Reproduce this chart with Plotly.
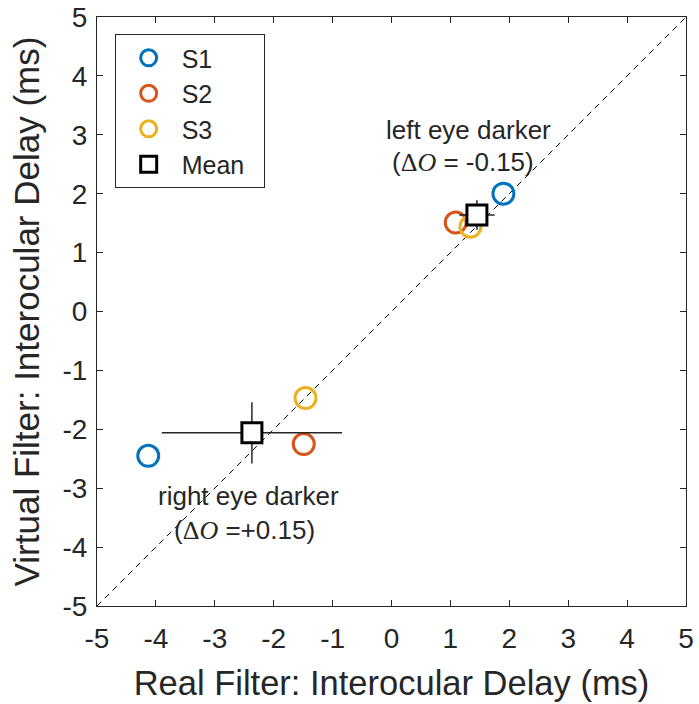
import plotly.graph_objects as go

# Data
s1_x = [1.90, -4.13]
s1_y = [2.00, -2.45]
s2_x = [1.09, -1.49]
s2_y = [1.51, -2.25]
s3_x = [1.34, -1.46]
s3_y = [1.44, -1.47]
mean_x = [1.45, -2.37]
mean_y = [1.64, -2.06]
mean_xerr = [0.30, 1.53]
mean_yerr = [0.25, 0.52]
ticks = [-5, -4, -3, -2, -1, 0, 1, 2, 3, 4, 5]

font = "Liberation Sans, Arial, Helvetica, sans-serif"
ink = "#262626"

fig = go.Figure()
fig.add_trace(go.Scatter(x=[-5, 5], y=[-5, 5], mode="lines",
                         line=dict(color="black", width=1, dash="6px,5px"),
                         showlegend=False, hoverinfo="skip"))

def circ(x, y, name, color):
    return go.Scatter(x=x, y=y, mode="markers", name=name,
                      marker=dict(symbol="circle-open", size=21, color=color,
                                  line=dict(width=3, color=color)))

fig.add_trace(circ(s1_x, s1_y, "S1", "#0072BD"))
fig.add_trace(circ(s2_x, s2_y, "S2", "#D95319"))
fig.add_trace(circ(s3_x, s3_y, "S3", "#EDB120"))
fig.add_trace(go.Scatter(x=mean_x, y=mean_y, mode="markers", name="Mean\u00a0\u00a0",
                         marker=dict(symbol="square", size=20, color="white",
                                     line=dict(width=3, color="black")),
                         error_x=dict(type="data", array=mean_xerr, color=ink, thickness=1.5, width=0),
                         error_y=dict(type="data", array=mean_yerr, color=ink, thickness=1.5, width=0)))

ann_font = dict(family=font, size=26, color=ink)
oi = "<span style='font-family:Liberation Serif, Times New Roman, serif'>Δ<i>O</i></span>"
fig.add_annotation(x=1.31, y=3.08, text="left eye darker", showarrow=False, font=ann_font, xanchor="center", yanchor="middle")
fig.add_annotation(x=1.21, y=2.54, text="(" + oi + " = -0.15)", showarrow=False, font=ann_font, xanchor="center", yanchor="middle")
fig.add_annotation(x=-2.43, y=-3.13, text="right eye darker", showarrow=False, font=ann_font, xanchor="center", yanchor="middle")
fig.add_annotation(x=-2.50, y=-3.71, text="(" + oi + " =+0.15)", showarrow=False, font=ann_font, xanchor="center", yanchor="middle")

axis_common = dict(range=[-5, 5], tickvals=ticks, ticktext=[str(t) for t in ticks],
                   ticks="inside", ticklen=6, tickcolor=ink, tickwidth=1,
                   showline=True, linecolor=ink, linewidth=1, mirror="ticks",
                   showgrid=False, zeroline=False, automargin=False,
                   tickfont=dict(family=font, size=28, color=ink))

fig.update_layout(
    width=699, height=704,
    margin=dict(l=97, r=13, t=17, b=98),
    plot_bgcolor="white", paper_bgcolor="white",
    font=dict(family=font, color=ink),
    xaxis=dict(**axis_common, ticklabelstandoff=7,
               title=dict(text="Real Filter: Interocular Delay (ms)",
                          font=dict(family=font, size=34.5, color=ink), standoff=18)),
    yaxis=dict(**axis_common, ticklabelstandoff=3,
               title=dict(text="Virtual Filter: Interocular Delay (ms)",
                          font=dict(family=font, size=35, color=ink), standoff=12)),
    legend=dict(x=0.03, y=0.971, xanchor="left", yanchor="top",
                bgcolor="white", bordercolor=ink, borderwidth=1,
                font=dict(family=font, size=25, color=ink),
                itemwidth=56, tracegroupgap=0),
)

fig.write_html("out.html")
